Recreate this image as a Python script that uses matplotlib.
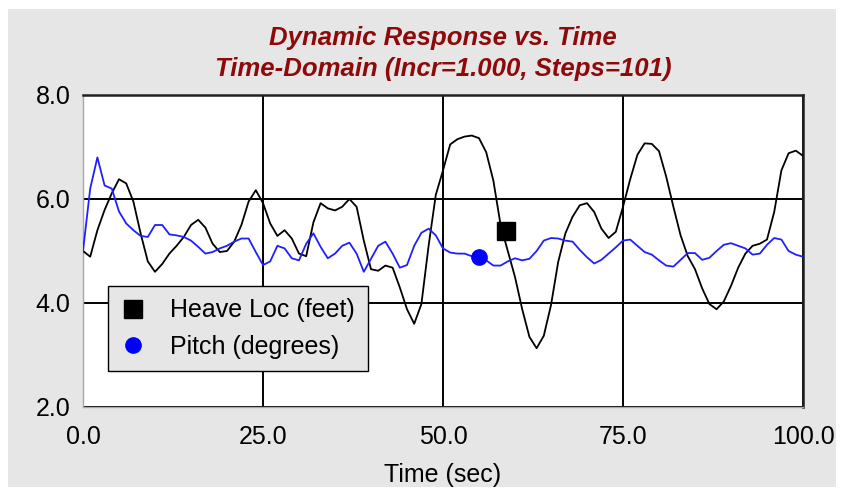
import numpy as np
import matplotlib
matplotlib.use("Agg")
import matplotlib.pyplot as plt
from matplotlib.patches import Rectangle
from matplotlib.lines import Line2D

# time steps (Incr=1.000, Steps=101)
time = np.arange(0, 101)

# heave location (feet)
heave = [5.0, 4.89, 5.4, 5.79, 6.11, 6.38, 6.3, 5.95, 5.34, 4.8,
         4.6, 4.75, 4.95, 5.1, 5.27, 5.5, 5.6, 5.45, 5.14, 4.98,
         5.0, 5.18, 5.5, 5.95, 6.17, 5.92, 5.53, 5.29, 5.4, 5.24,
         4.95, 4.9, 5.55, 5.92, 5.82, 5.78, 5.85, 6.0, 5.85, 5.2,
         4.65, 4.62, 4.72, 4.68, 4.3, 3.88, 3.6, 3.98, 5.1, 6.08,
         6.55, 7.05, 7.15, 7.2, 7.22, 7.17, 6.9, 6.35, 5.5, 5.0,
         4.5, 3.88, 3.35, 3.13, 3.37, 3.96, 4.79, 5.34, 5.66, 5.88,
         5.92, 5.75, 5.43, 5.25, 5.37, 5.85, 6.38, 6.85, 7.07, 7.06,
         6.92, 6.43, 5.85, 5.3, 4.9, 4.65, 4.28, 3.98, 3.88, 4.03,
         4.33, 4.68, 4.95, 5.1, 5.14, 5.22, 5.75, 6.55, 6.88, 6.93,
         6.83]

# pitch (degrees)
pitch = [5.0, 6.2, 6.8, 6.26, 6.2, 5.76, 5.53, 5.4, 5.29, 5.27,
         5.5, 5.5, 5.32, 5.3, 5.27, 5.2, 5.08, 4.95, 4.98, 5.05,
         5.1, 5.18, 5.24, 5.24, 4.98, 4.73, 4.8, 5.1, 5.05, 4.86,
         4.82, 5.14, 5.34, 5.08, 4.86, 4.95, 5.1, 5.16, 4.95, 4.6,
         4.85, 5.1, 5.18, 4.95, 4.68, 4.73, 5.1, 5.35, 5.43, 5.3,
         5.05, 4.97, 4.95, 4.95, 4.9, 4.89, 4.82, 4.72, 4.72, 4.8,
         4.86, 4.82, 4.85, 5.0, 5.2, 5.25, 5.24, 5.2, 5.18, 5.02,
         4.88, 4.76, 4.83, 4.95, 5.07, 5.2, 5.22, 5.1, 4.98, 4.93,
         4.82, 4.72, 4.7, 4.83, 4.96, 4.96, 4.83, 4.87, 5.0, 5.12,
         5.15, 5.1, 5.05, 4.93, 4.95, 5.12, 5.25, 5.22, 5.0, 4.93,
         4.89]

# series symbols drawn on the curves
heave_mark = (58.8, 5.38)
pitch_mark = (55.0, 4.89)

xticks = [0, 25, 50, 75, 100]
yticks = [2, 4, 6, 8]

panel = "#e6e6e6"
fnt = "Liberation Sans"

fig = plt.figure(figsize=(8.44, 4.94), dpi=100)
fig.patch.set_facecolor("white")
fig.patches.append(Rectangle((8/844, 1-487/494), 828/844, 478/494,
                             transform=fig.transFigure, facecolor=panel,
                             edgecolor="none", zorder=-10))

ax = fig.add_axes([83/844, 1-407/494, 720/844, 312/494])
ax.set_facecolor("white")

ax.plot(time, heave, color="black", lw=1.3, zorder=3)
ax.plot(time, pitch, color="#1f1fff", lw=1.3, zorder=3)
ax.plot(*heave_mark, marker="s", ms=13, color="black", zorder=5)
ax.plot(*pitch_mark, marker="o", ms=11, color="#0000ff", zorder=5)

ax.set_xlim(0, 100)
ax.set_ylim(2, 8)
ax.set_xticks(xticks)
ax.set_yticks(yticks)
ax.set_xticklabels(["%.1f" % v for v in xticks], fontsize=18, family=fnt)
ax.set_yticklabels(["%.1f" % v for v in yticks], fontsize=18, family=fnt)
ax.tick_params(length=0, pad=9)
ax.tick_params(axis="x", pad=13)
ax.grid(True, color="black", lw=1.4, zorder=1)

for s in ["top", "right"]:
    ax.spines[s].set_color("#202020")
    ax.spines[s].set_linewidth(1.8)
for s in ["left", "bottom"]:
    ax.spines[s].set_color("#a8a8a8")
    ax.spines[s].set_linewidth(1.0)

ax.set_xlabel("Time (sec)", fontsize=18, family=fnt, labelpad=10)
ax.set_title("Dynamic Response vs. Time\nTime-Domain (Incr=1.000, Steps=101)",
             fontsize=18.5, family=fnt, fontweight="bold", style="italic",
             color="#8e0a0a", pad=14, linespacing=1.35)

handles = [Line2D([], [], ls="none", marker="s", ms=13, color="black"),
           Line2D([], [], ls="none", marker="o", ms=11, color="#0000ff")]
leg = ax.legend(handles, ["Heave Loc (feet)", "Pitch (degrees)"],
                loc="upper left", bbox_to_anchor=(25/720, 121/312),
                prop={"family": fnt, "size": 18}, fancybox=False,
                framealpha=1, facecolor=panel, edgecolor="black",
                handlelength=1.0, handletextpad=1.0, borderpad=0.5,
                labelspacing=0.5, borderaxespad=0)
leg.get_frame().set_linewidth(1.0)
leg.set_zorder(6)

fig.savefig("out.png", dpi=100, facecolor=fig.get_facecolor())
